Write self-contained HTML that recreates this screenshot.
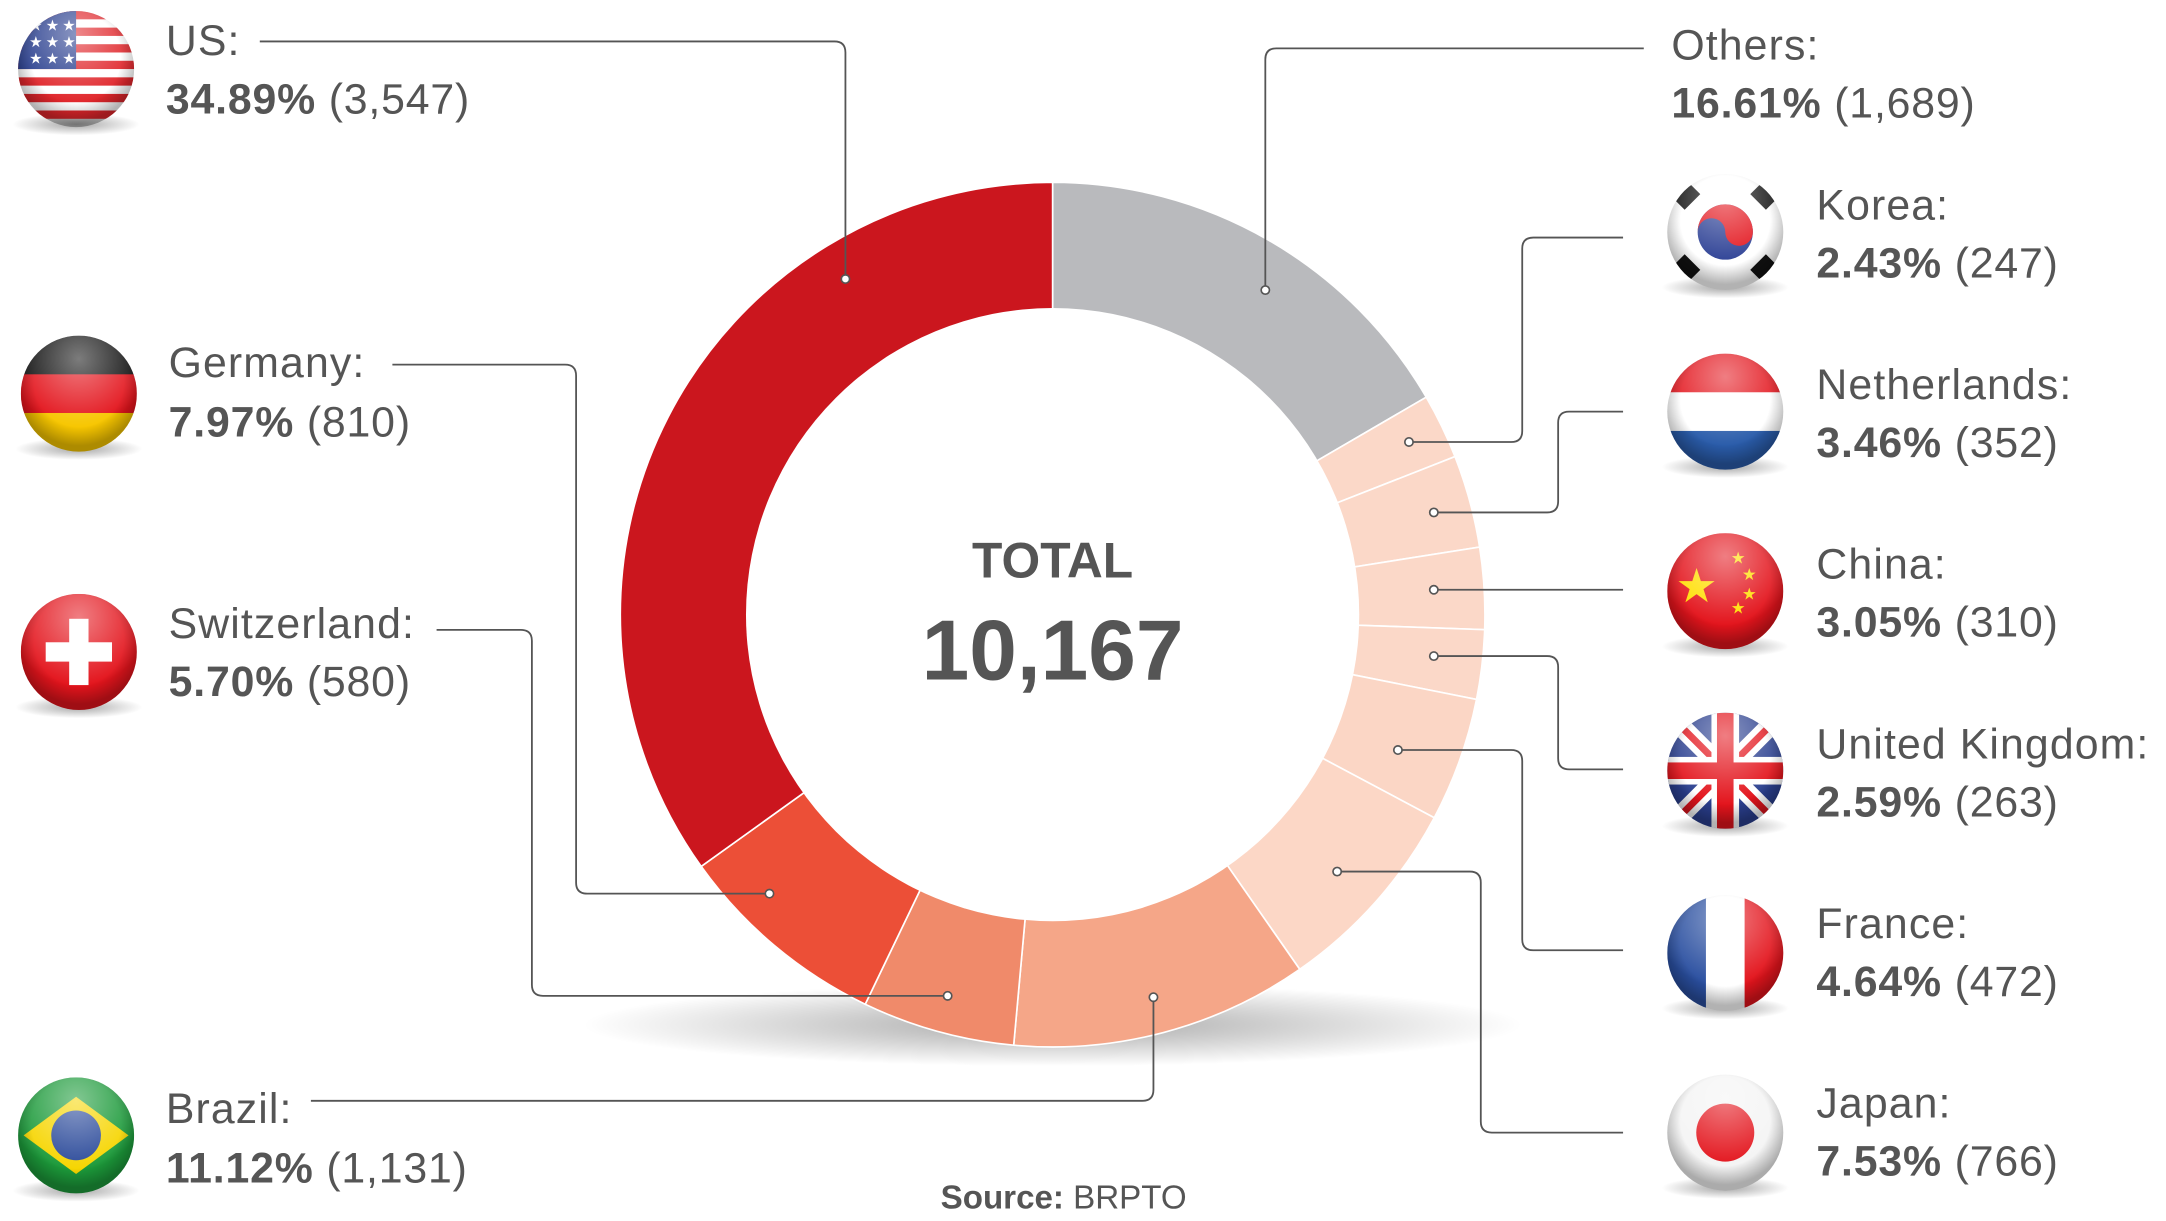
<!DOCTYPE html>
<html><head><meta charset="utf-8"><style>
html,body{margin:0;padding:0;background:#fff;}
svg{display:block;}
text{font-family:"Liberation Sans",sans-serif;fill:#555;}
.n{font-size:31px;letter-spacing:0.8px;}
.v{font-size:31px;letter-spacing:0.6px;}
.b{font-weight:bold;}
</style></head><body>
<svg id="s" width="2166" height="1221" viewBox="0 0 1568 884" xmlns="http://www.w3.org/2000/svg">
<defs>
<radialGradient id="sh" cx="0.5" cy="0.5" r="0.5">
<stop offset="0" stop-color="#000" stop-opacity="0.35"/>
<stop offset="1" stop-color="#000" stop-opacity="0"/>
</radialGradient>
<radialGradient id="gl" cx="0.5" cy="0.2" r="0.6">
<stop offset="0" stop-color="#fff" stop-opacity="0.45"/>
<stop offset="1" stop-color="#fff" stop-opacity="0"/>
</radialGradient>
<radialGradient id="dk" cx="0.5" cy="0.4" r="0.55">
<stop offset="0.7" stop-color="#000" stop-opacity="0"/>
<stop offset="1" stop-color="#000" stop-opacity="0.3"/>
</radialGradient>
</defs>
<ellipse cx="762" cy="742" rx="340" ry="30" fill="url(#sh)"/>
<g id="ring"></g>
<circle cx="762" cy="445" r="222" fill="#fff"/>
<g fill="none" stroke="#555" stroke-width="1.3">
<path d="M612,202 V38 Q612,30 604,30 H188"/>
<path d="M916,210 V43 Q916,35 924,35 H1190"/>
<path d="M1020,320 H1094 Q1102,320 1102,312 V180 Q1102,172 1110,172 H1175"/>
<path d="M1038,371 H1120 Q1128,371 1128,363 V306 Q1128,298 1136,298 H1175"/>
<path d="M1038,427 H1175"/>
<path d="M1038,475 H1120 Q1128,475 1128,483 V549 Q1128,557 1136,557 H1175"/>
<path d="M1012,543 H1094 Q1102,543 1102,551 V680 Q1102,688 1110,688 H1175"/>
<path d="M968,631 H1064 Q1072,631 1072,639 V812 Q1072,820 1080,820 H1175"/>
<path d="M835,722 V789 Q835,797 827,797 H225"/>
<path d="M686,721 H393 Q385,721 385,713 V464 Q385,456 377,456 H316"/>
<path d="M557,647 H425 Q417,647 417,639 V272 Q417,264 409,264 H284"/>
</g>
<g fill="#fff" stroke="#555" stroke-width="1.2">
<circle cx="612" cy="202" r="3"/><circle cx="916" cy="210" r="3"/><circle cx="1020" cy="320" r="3"/>
<circle cx="1038" cy="371" r="3"/><circle cx="1038" cy="427" r="3"/><circle cx="1038" cy="475" r="3"/>
<circle cx="1012" cy="543" r="3"/><circle cx="968" cy="631" r="3"/><circle cx="835" cy="722" r="3"/>
<circle cx="686" cy="721" r="3"/><circle cx="557" cy="647" r="3"/>
</g>
<text x="762" y="418" text-anchor="middle" class="b" style="font-size:36px">TOTAL</text>
<text x="762" y="492" text-anchor="middle" class="b" style="font-size:62px">10,167</text>
<text x="770" y="875" text-anchor="middle" style="font-size:24px"><tspan class="b">Source:</tspan> BRPTO</text>

<text x="120" y="40" class="n">US:</text><text x="120" y="82" class="v"><tspan class="b">34.89%</tspan> (3,547)</text>
<text x="122" y="273" class="n">Germany:</text><text x="122" y="316" class="v"><tspan class="b">7.97%</tspan> (810)</text>
<text x="122" y="462" class="n">Switzerland:</text><text x="122" y="504" class="v"><tspan class="b">5.70%</tspan> (580)</text>
<text x="120" y="813" class="n">Brazil:</text><text x="120" y="856" class="v"><tspan class="b">11.12%</tspan> (1,131)</text>
<text x="1210" y="43" class="n">Others:</text><text x="1210" y="85" class="v"><tspan class="b">16.61%</tspan> (1,689)</text>
<text x="1315" y="159" class="n">Korea:</text><text x="1315" y="201" class="v"><tspan class="b">2.43%</tspan> (247)</text>
<text x="1315" y="289" class="n">Netherlands:</text><text x="1315" y="331" class="v"><tspan class="b">3.46%</tspan> (352)</text>
<text x="1315" y="419" class="n">China:</text><text x="1315" y="461" class="v"><tspan class="b">3.05%</tspan> (310)</text>
<text x="1315" y="549" class="n">United Kingdom:</text><text x="1315" y="591" class="v"><tspan class="b">2.59%</tspan> (263)</text>
<text x="1315" y="679" class="n">France:</text><text x="1315" y="721" class="v"><tspan class="b">4.64%</tspan> (472)</text>
<text x="1315" y="809" class="n">Japan:</text><text x="1315" y="851" class="v"><tspan class="b">7.53%</tspan> (766)</text>
<g id="flags"></g>
</svg>
<script>
var NS="http://www.w3.org/2000/svg";
function el(p,t,a){var e=document.createElementNS(NS,t);for(var k in a)e.setAttribute(k,a[k]);p.appendChild(e);return e;}
var cx=762,cy=445,R=313,r=222;
var segs=[[16.61,"#b9babd"],[2.43,"#fbd8c8"],[3.46,"#fbd8c8"],[3.05,"#fbd8c8"],[2.59,"#fbd8c8"],[4.64,"#fbd6c5"],[7.53,"#fcd7c6"],[11.12,"#f5a688"],[5.70,"#f08a6a"],[7.97,"#ec4f37"],[34.89,"#cb161e"]];
var tot=0;segs.forEach(function(s){tot+=s[0]});
var a0=0,g=document.getElementById("ring");
function pt(a,rad){var t=a/tot*2*Math.PI;return [cx+rad*Math.sin(t),cy-rad*Math.cos(t)];}
segs.forEach(function(s){var a1=a0+s[0];var p1=pt(a0,R),p2=pt(a1,R),p3=pt(a1,r-2),p4=pt(a0,r-2);var l=s[0]/tot>0.5?1:0;
el(g,"path",{d:"M"+p1+" A"+R+","+R+" 0 "+l+" 1 "+p2+" L"+p3+" A"+(r-2)+","+(r-2)+" 0 "+l+" 0 "+p4+"Z",fill:s[1],stroke:"#fff","stroke-width":1.2});a0=a1;});
var F=document.getElementById("flags");var id=0;
function flag(x,y,draw){id++;var cp=el(F,"clipPath",{id:"c"+id});el(cp,"circle",{cx:x,cy:y,r:42});
el(F,"ellipse",{cx:x,cy:y+40,rx:46,ry:8,fill:"url(#sh)"});
var gg=el(F,"g",{"clip-path":"url(#c"+id+")"});draw(gg,x-42,y-42);
el(F,"circle",{cx:x,cy:y,r:42,fill:"url(#dk)"});el(F,"circle",{cx:x,cy:y,r:42,fill:"url(#gl)"});}
function stripesH(g,x,y,cols){var h=84/cols.length;cols.forEach(function(c,i){el(g,"rect",{x:x,y:y+i*h,width:84,height:h+0.5,fill:c})});}
function stripesV(g,x,y,cols){var w=84/cols.length;cols.forEach(function(c,i){el(g,"rect",{x:x+i*w,y:y,width:w+0.5,height:84,fill:c})});}
flag(55,50,function(g,x,y){for(var i=0;i<7;i++)el(g,"rect",{x:x,y:y+i*12,width:84,height:6,fill:"#e0262b"});el(g,"rect",{x:x,y:y,width:42,height:42,fill:"#2a3f8f"});
for(var i=0;i<3;i++)for(var j=0;j<3;j++)el(g,"text",{x:x+8+j*12,y:y+14+i*12,"font-size":11,fill:"#fff",style:"fill:#fff"}).textContent="★";});
flag(57,285,function(g,x,y){stripesH(g,x,y,["#111","#e3141c","#f7c600"]);});
flag(57,472,function(g,x,y){el(g,"rect",{x:x,y:y,width:84,height:84,fill:"#e3141c"});el(g,"rect",{x:x+35,y:y+18,width:14,height:48,fill:"#fff"});el(g,"rect",{x:x+18,y:y+35,width:48,height:14,fill:"#fff"});});
flag(55,822,function(g,x,y){el(g,"rect",{x:x,y:y,width:84,height:84,fill:"#1c9a3a"});el(g,"path",{d:"M"+(x+4)+","+(y+42)+" L"+(x+42)+","+(y+14)+" L"+(x+80)+","+(y+42)+" L"+(x+42)+","+(y+70)+"Z",fill:"#f6d500"});el(g,"circle",{cx:x+42,cy:y+42,r:18,fill:"#2b4a9a"});});
flag(1249,168,function(g,x,y){el(g,"rect",{x:x,y:y,width:84,height:84,fill:"#fff"});el(g,"circle",{cx:x+42,cy:y+42,r:20,fill:"#2b3f94"});el(g,"path",{d:"M"+(x+22)+","+(y+42)+" A20,20 0 0 1 "+(x+62)+","+(y+42)+" A10,10 0 0 1 "+(x+42)+","+(y+42)+" A10,10 0 0 0 "+(x+22)+","+(y+42)+"Z",fill:"#e3141c"});
[[14,16],[70,16],[14,68],[70,68]].forEach(function(p){el(g,"rect",{x:x+p[0]-8,y:y+p[1]-6,width:16,height:12,fill:"#111",transform:"rotate("+((p[0]<42)==(p[1]<42)?-45:45)+" "+(x+p[0])+" "+(y+p[1])+")"});});});
flag(1249,298,function(g,x,y){stripesH(g,x,y,["#e3141c","#fff","#2a5caa"]);});
flag(1249,428,function(g,x,y){el(g,"rect",{x:x,y:y,width:84,height:84,fill:"#e3141c"});var t=el(g,"text",{x:x+6,y:y+50,"font-size":34,style:"fill:#ffde00"});t.textContent="★";
[[46,22],[54,34],[54,48],[46,58]].forEach(function(p){el(g,"text",{x:x+p[0],y:y+p[1],"font-size":12,style:"fill:#ffde00"}).textContent="★";});});
flag(1249,558,function(g,x,y){el(g,"rect",{x:x,y:y,width:84,height:84,fill:"#2a3f8f"});
el(g,"path",{d:"M"+x+","+y+" L"+(x+84)+","+(y+84)+" M"+(x+84)+","+y+" L"+x+","+(y+84),stroke:"#fff","stroke-width":14});
el(g,"path",{d:"M"+x+","+y+" L"+(x+84)+","+(y+84)+" M"+(x+84)+","+y+" L"+x+","+(y+84),stroke:"#e3141c","stroke-width":5});
el(g,"rect",{x:x+32,y:y,width:20,height:84,fill:"#fff"});el(g,"rect",{x:x,y:y+32,width:84,height:20,fill:"#fff"});
el(g,"rect",{x:x+36,y:y,width:12,height:84,fill:"#e3141c"});el(g,"rect",{x:x,y:y+36,width:84,height:12,fill:"#e3141c"});});
flag(1249,690,function(g,x,y){stripesV(g,x,y,["#2a4fa0","#fff","#e3141c"]);});
flag(1249,820,function(g,x,y){el(g,"rect",{x:x,y:y,width:84,height:84,fill:"#f4f4f4"});el(g,"circle",{cx:x+42,cy:y+42,r:21,fill:"#e3141c"});});
</script>
</body></html>
